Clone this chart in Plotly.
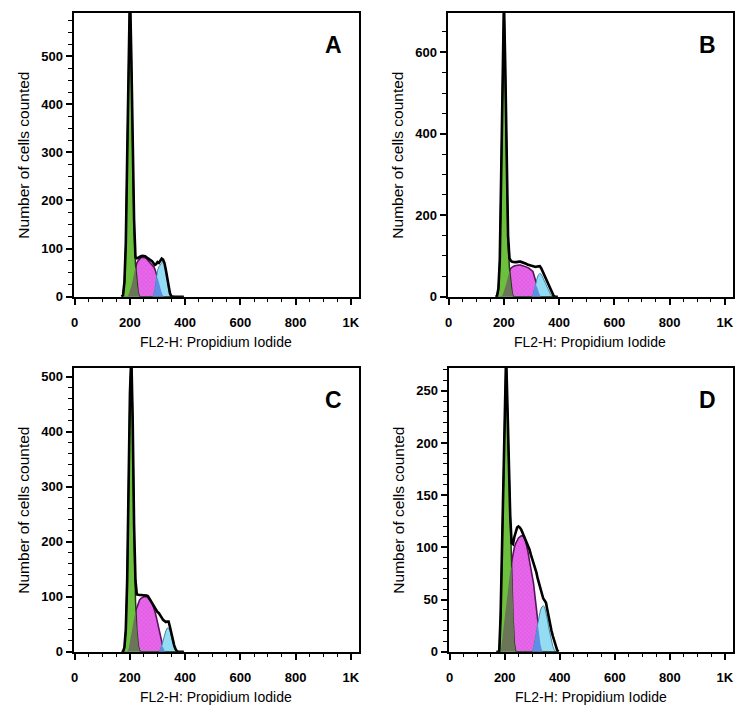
import numpy as np
import plotly.graph_objects as go

# Channel grid (FL2-H) shared by the component arrays, step 5 from 170 to 395
CHANNELS = list(range(170, 400, 5))

# ---------------- Panel A ----------------
A_DATA = [0, 3, 30, 110, 290, 500, 640, 500, 300, 160, 82, 80, 81, 83, 84, 85, 85, 84, 82, 80,
          78, 76, 74, 70, 66, 68, 72, 70, 75, 79, 77, 70, 56, 38, 20, 7, 1, 0, 0, 0,
          0, 0, 0, 0, 0, 0]
A_G1 = [0, 3, 30, 110, 290, 500, 640, 490, 290, 140, 68, 30, 8, 0, 0, 0, 0, 0, 0, 0,
        0, 0, 0, 0, 0, 0, 0, 0, 0, 0, 0, 0, 0, 0, 0, 0, 0, 0, 0, 0,
        0, 0, 0, 0, 0, 0]
A_S = [0, 0, 0, 0, 0, 4, 12, 22, 34, 48, 62, 70, 75, 79, 81, 82, 82, 81, 79, 76,
       73, 70, 67, 63, 58, 50, 40, 30, 18, 8, 2, 0, 0, 0, 0, 0, 0, 0, 0, 0,
       0, 0, 0, 0, 0, 0]
A_G2 = [0, 0, 0, 0, 0, 0, 0, 0, 0, 0, 0, 0, 0, 0, 0, 0, 0, 0, 0, 0,
        0, 0, 0, 2, 12, 35, 55, 62, 67, 72, 74, 68, 54, 36, 15, 4, 0, 0, 0, 0,
        0, 0, 0, 0, 0, 0]

# ---------------- Panel B ----------------
B_DATA = [0, 2, 20, 90, 300, 560, 730, 560, 300, 150, 95, 88, 86, 85, 85, 85, 86, 86, 86, 85,
          84, 83, 81, 79, 78, 77, 76, 75, 73, 73, 74, 75, 75, 70, 62, 54, 46, 38, 30, 22,
          14, 7, 2, 0, 0, 0]
B_G1 = [0, 2, 20, 90, 300, 560, 730, 550, 290, 130, 70, 30, 8, 0, 0, 0, 0, 0, 0, 0,
        0, 0, 0, 0, 0, 0, 0, 0, 0, 0, 0, 0, 0, 0, 0, 0, 0, 0, 0, 0,
        0, 0, 0, 0, 0, 0]
B_S = [0, 0, 0, 0, 0, 4, 12, 24, 36, 50, 64, 70, 73, 75, 76, 77, 78, 78, 78, 77,
       76, 75, 74, 72, 70, 68, 66, 62, 50, 37, 24, 12, 4, 0, 0, 0, 0, 0, 0, 0,
       0, 0, 0, 0, 0, 0]
B_G2 = [0, 0, 0, 0, 0, 0, 0, 0, 0, 0, 0, 0, 0, 0, 0, 0, 0, 0, 0, 0,
        0, 0, 0, 0, 0, 0, 0, 5, 15, 30, 45, 54, 57, 55, 48, 40, 32, 24, 16, 9,
        4, 1, 0, 0, 0, 0]

# ---------------- Panel C ----------------
C_DATA = [0, 0, 8, 40, 130, 300, 470, 540, 420, 230, 130, 104, 103, 103, 103, 103, 103, 103, 102, 101,
          97, 92, 88, 83, 79, 75, 72, 70, 67, 62, 58, 56, 54, 55, 55, 45, 33, 22, 12, 5,
          1, 0, 0, 0, 0, 0]
C_G1 = [0, 0, 8, 40, 130, 300, 470, 540, 420, 220, 95, 40, 12, 2, 0, 0, 0, 0, 0, 0,
        0, 0, 0, 0, 0, 0, 0, 0, 0, 0, 0, 0, 0, 0, 0, 0, 0, 0, 0, 0,
        0, 0, 0, 0, 0, 0]
C_S = [0, 0, 0, 0, 0, 5, 18, 33, 48, 62, 74, 80, 88, 94, 97, 99, 100, 100, 100, 98,
       96, 93, 88, 82, 74, 64, 52, 40, 28, 17, 8, 2, 0, 0, 0, 0, 0, 0, 0, 0,
       0, 0, 0, 0, 0, 0]
C_G2 = [0, 0, 0, 0, 0, 0, 0, 0, 0, 0, 0, 0, 0, 0, 0, 0, 0, 0, 0, 0,
        0, 0, 0, 0, 0, 0, 0, 0, 4, 10, 20, 30, 38, 43, 43, 38, 28, 17, 8, 3,
        0, 0, 0, 0, 0, 0]

# ---------------- Panel D ----------------
D_DATA = [0, 0, 0, 35, 100, 160, 220, 285, 235, 180, 130, 104, 103, 110, 116, 119, 120, 119, 117, 114,
          111, 108, 105, 101, 98, 93, 89, 85, 81, 76, 70, 65, 60, 55, 51, 49, 47, 40, 32, 26,
          20, 15, 10, 6, 2, 0]
D_G1 = [0, 0, 0, 35, 100, 160, 220, 285, 230, 175, 120, 82, 35, 8, 0, 0, 0, 0, 0, 0,
        0, 0, 0, 0, 0, 0, 0, 0, 0, 0, 0, 0, 0, 0, 0, 0, 0, 0, 0, 0,
        0, 0, 0, 0, 0, 0]
D_S = [0, 0, 0, 0, 10, 22, 34, 46, 57, 67, 77, 86, 94, 100, 104, 107, 109, 110, 111, 111,
       110, 107, 102, 95, 87, 80, 73, 65, 53, 40, 28, 16, 7, 2, 0, 0, 0, 0, 0, 0,
       0, 0, 0, 0, 0, 0]
D_G2 = [0, 0, 0, 0, 0, 0, 0, 0, 0, 0, 0, 0, 0, 0, 0, 0, 0, 0, 0, 0,
        0, 0, 0, 0, 0, 0, 0, 4, 10, 18, 27, 35, 40, 43, 44, 43, 38, 31, 23, 16,
        10, 5, 2, 0, 0, 0]

PANEL_LETTERS = ["A", "B", "C", "D"]
Y_MAX = [590, 697, 516, 272]
Y_DTICK = [100, 200, 100, 50]
Y_MINOR = [25, 50, 20, 10]
X_TICKVALS = [0, 200, 400, 600, 800, 1000]
X_TICKTEXT = ["0", "200", "400", "600", "800", "1K"]
X_TITLE = "FL2-H: Propidium Iodide"
Y_TITLE = "Number of cells counted"

PANELS = [
    (A_DATA, A_G1, A_S, A_G2),
    (B_DATA, B_G1, B_S, B_G2),
    (C_DATA, C_G1, C_S, C_G2),
    (D_DATA, D_G1, D_S, D_G2),
]

W, H = 748, 724
# pixel boxes of each plot area: (left, right, top, bottom)
BOXES = [(71, 358, 13, 300), (447, 734, 13, 300), (71, 358, 372, 659), (448, 734, 372, 659)]

GREEN = "#6dbf3e"
OLIVE = "#6b7658"
MAGENTA = "#e35ee6"
CYAN = "#93dcf4"
BLUE = "#5f8fe4"

FONT = "Liberation Sans, Arial, sans-serif"

fig = go.Figure()
x = np.array(CHANNELS)

for i, (data, g1, s, g2) in enumerate(PANELS):
    n = i + 1
    xa = "x" if n == 1 else f"x{n}"
    ya = "y" if n == 1 else f"y{n}"
    g1 = np.array(g1, float)
    s = np.array(s, float)
    g2 = np.array(g2, float)
    common = dict(xaxis=xa, yaxis=ya, showlegend=False, hoverinfo="skip", mode="lines")
    # S phase
    fig.add_trace(go.Scatter(x=x, y=s, fill="tozeroy", fillcolor=MAGENTA,
                             fillpattern=dict(shape="x", bgcolor=MAGENTA, fgcolor="#f29af2",
                                              size=3, solidity=0.25),
                             line=dict(color="#5a125e", width=1.6), **common))
    # G2
    fig.add_trace(go.Scatter(x=x, y=g2, fill="tozeroy", fillcolor=CYAN,
                             line=dict(color="#3a8aa0", width=1), **common))
    # G1
    fig.add_trace(go.Scatter(x=x, y=g1, fill="tozeroy", fillcolor=GREEN,
                             line=dict(color="#1f3d12", width=1.5), **common))
    # overlap S & G2
    fig.add_trace(go.Scatter(x=x, y=np.minimum(s, g2), fill="tozeroy", fillcolor=BLUE,
                             line=dict(color=BLUE, width=0), **common))
    # overlap G1 & S
    fig.add_trace(go.Scatter(x=x, y=np.minimum(g1, s), fill="tozeroy", fillcolor=OLIVE,
                             line=dict(color=OLIVE, width=0), **common))
    # measured histogram
    fig.add_trace(go.Scatter(x=x, y=data, line=dict(color="black", width=2.6), **common))

    l, r, t, b = BOXES[i]
    xkey = "xaxis" if n == 1 else f"xaxis{n}"
    ykey = "yaxis" if n == 1 else f"yaxis{n}"
    fig.update_layout(**{
        xkey: dict(domain=[l / W, r / W], range=[-4, 1030], anchor=ya,
                   tickvals=X_TICKVALS, ticktext=X_TICKTEXT,
                   ticks="outside", ticklen=6, tickwidth=1.5, tickcolor="black",
                   ticklabelstandoff=7,
                   minor=dict(dtick=50, tick0=0, ticks="outside", ticklen=3.5,
                              tickwidth=1.3, tickcolor="black"),
                   showline=True, linewidth=2.2, linecolor="black", mirror=True,
                   showgrid=False, zeroline=False,
                   tickfont=dict(family=FONT, size=13, color="black", weight="bold")),
        ykey: dict(domain=[1 - b / H, 1 - t / H], range=[0, Y_MAX[i]], anchor=xa,
                   dtick=Y_DTICK[i], tick0=0,
                   ticks="outside", ticklen=6, tickwidth=1.5, tickcolor="black",
                   minor=dict(dtick=Y_MINOR[i], tick0=0, ticks="outside", ticklen=3.5,
                              tickwidth=1.3, tickcolor="black"),
                   showline=True, linewidth=2.2, linecolor="black", mirror=True,
                   showgrid=False, zeroline=False,
                   tickfont=dict(family=FONT, size=13, color="black", weight="bold")),
    })
    # panel letter
    fig.add_annotation(x=(r - 26) / W, y=1 - (t + 32) / H, xref="paper", yref="paper",
                       xanchor="center", yanchor="middle",
                       text=f"<b>{PANEL_LETTERS[i]}</b>", showarrow=False,
                       font=dict(family=FONT, size=23, color="black"))
    # axis titles
    fig.add_annotation(x=(l + r) / 2 / W, y=1 - (b + 46) / H, xref="paper", yref="paper",
                       xanchor="center", yanchor="middle",
                       text=X_TITLE, showarrow=False,
                       font=dict(family=FONT, size=14, color="black"))
    fig.add_annotation(x=(l - 50) / W, y=1 - (t + b) / 2 / H, xref="paper", yref="paper",
                       xanchor="center", yanchor="middle",
                       text=Y_TITLE, showarrow=False, textangle=-90,
                       font=dict(family=FONT, size=15.5, color="black"))

fig.update_layout(width=W, height=H, margin=dict(l=0, r=0, t=0, b=0),
                  paper_bgcolor="white", plot_bgcolor="white")

fig.write_html("out.html", config={"displayModeBar": False},
               post_script="document.body.style.margin='0';document.body.style.overflow='hidden';")
